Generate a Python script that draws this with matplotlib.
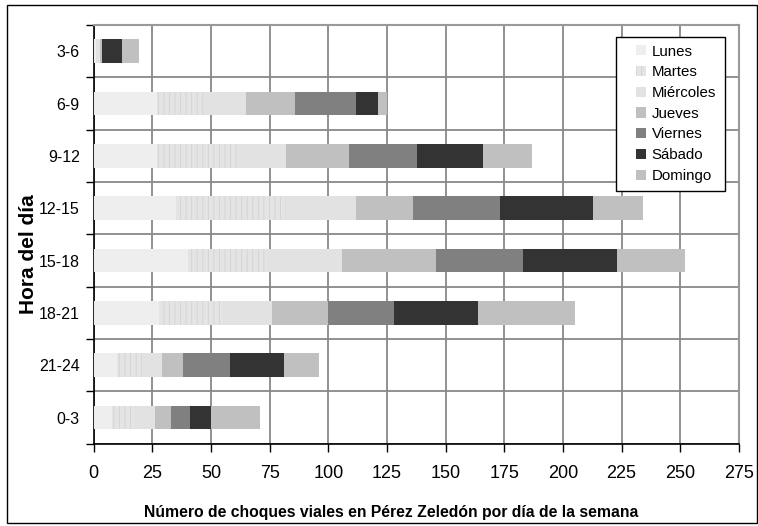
import matplotlib
matplotlib.use("Agg")
import matplotlib.pyplot as plt
from matplotlib.patches import Rectangle
import numpy as np

plt.rcParams['font.family'] = ['Liberation Sans', 'DejaVu Sans']

# Categories listed bottom to top
horas = ["0-3", "21-24", "18-21", "15-18", "12-15", "9-12", "6-9", "3-6"]
dias = ["Lunes", "Martes", "Miércoles", "Jueves", "Viernes", "Sábado", "Domingo"]

lunes     = [8, 10, 28, 40, 35, 27, 27, 1]
martes    = [9, 11, 27, 34, 47, 35, 20, 0]
miercoles = [9, 8, 21, 32, 30, 20, 18, 1.5]
jueves    = [7, 9, 24, 40, 24, 27, 21, 1]
viernes   = [8, 20, 28, 37, 37, 29, 26, 0]
sabado    = [9, 23, 36, 40, 40, 28, 9, 8.5]
domingo   = [21, 15, 41, 29, 21, 21, 4, 7.5]

series = [lunes, martes, miercoles, jueves, viernes, sabado, domingo]
colores = ["#eeeeee", "#e4e4e4", "#e2e2e2", "#c0c0c0", "#808080", "#333333", "#c0c0c0"]
hatches = [None, "|||", None, None, None, None, None]
hatch_cols = ["#eeeeee", "#d2d2d2", "#e2e2e2", "#c0c0c0", "#808080", "#333333", "#c0c0c0"]

plt.rcParams['hatch.linewidth'] = 0.6

fig = plt.figure(figsize=(7.58, 5.26), dpi=100)
ax = fig.add_axes([93.7/758, 1 - 443.7/526, (738.8-93.7)/758, (443.7-25)/526])

y = np.arange(len(horas))
left = np.zeros(len(horas))
handles = []
for vals, c, h, hc, name in zip(series, colores, hatches, hatch_cols, dias):
    b = ax.barh(y, vals, left=left, height=0.45, color=c, edgecolor=hc,
                linewidth=0, hatch=h, label=name, zorder=3)
    handles.append(b)
    left = left + np.array(vals, dtype=float)

ax.set_xlim(0, 275)
ax.set_ylim(-0.5, len(horas) - 0.5)
ax.set_xticks(np.arange(0, 276, 25))
ax.set_yticks(y)
ax.set_yticklabels(horas, fontsize=11.5)
ax.set_yticks(np.arange(-0.5, len(horas), 1.0), minor=True)

ax.tick_params(axis='y', which='major', length=0, pad=10)
ax.tick_params(axis='y', which='minor', length=6, width=1, direction='out', color='black')
ax.tick_params(axis='x', which='major', length=6, width=1, direction='out', labelsize=13, pad=9)

ax.grid(axis='x', which='major', color='#888888', linewidth=1.3, zorder=0)
ax.grid(axis='y', which='minor', color='#888888', linewidth=1.3, zorder=0)
ax.set_axisbelow(True)

for s in ['left', 'bottom']:
    ax.spines[s].set_color('black')
    ax.spines[s].set_linewidth(1.2)
for s in ['top', 'right']:
    ax.spines[s].set_color('#999999')
    ax.spines[s].set_linewidth(1.5)

fig.text(391/758, 1 - 513/526,
         "Número de choques viales en Pérez Zeledón por día de la semana",
         fontsize=11.3, fontweight='bold', ha='center', va='center')
fig.text(29/758, 1 - 254/526, "Hora del día", rotation=90, fontsize=15,
         fontweight='bold', ha='center', va='center')

# legend box
box = Rectangle((616/758, 1 - 191/526), (725-616)/758, (191-37)/526,
                transform=fig.transFigure, facecolor='white', edgecolor='black',
                linewidth=1.0, zorder=5)
fig.patches.append(box)
leg = fig.legend(handles=handles, labels=dias, loc='upper left',
                 bbox_to_anchor=(628/758, 1 - 37/526), frameon=False,
                 prop={'size': 10.8},
                 handlelength=0.68, handleheight=0.68,
                 handletextpad=0.4, labelspacing=0.45, borderpad=0.0)
leg.set_zorder(6)

# outer border
border = Rectangle((7/758, 3/526), (750)/758, (518)/526, transform=fig.transFigure,
                   facecolor='none', edgecolor='black', linewidth=1.0, zorder=10)
fig.patches.append(border)

fig.savefig("out.png", dpi=100)
